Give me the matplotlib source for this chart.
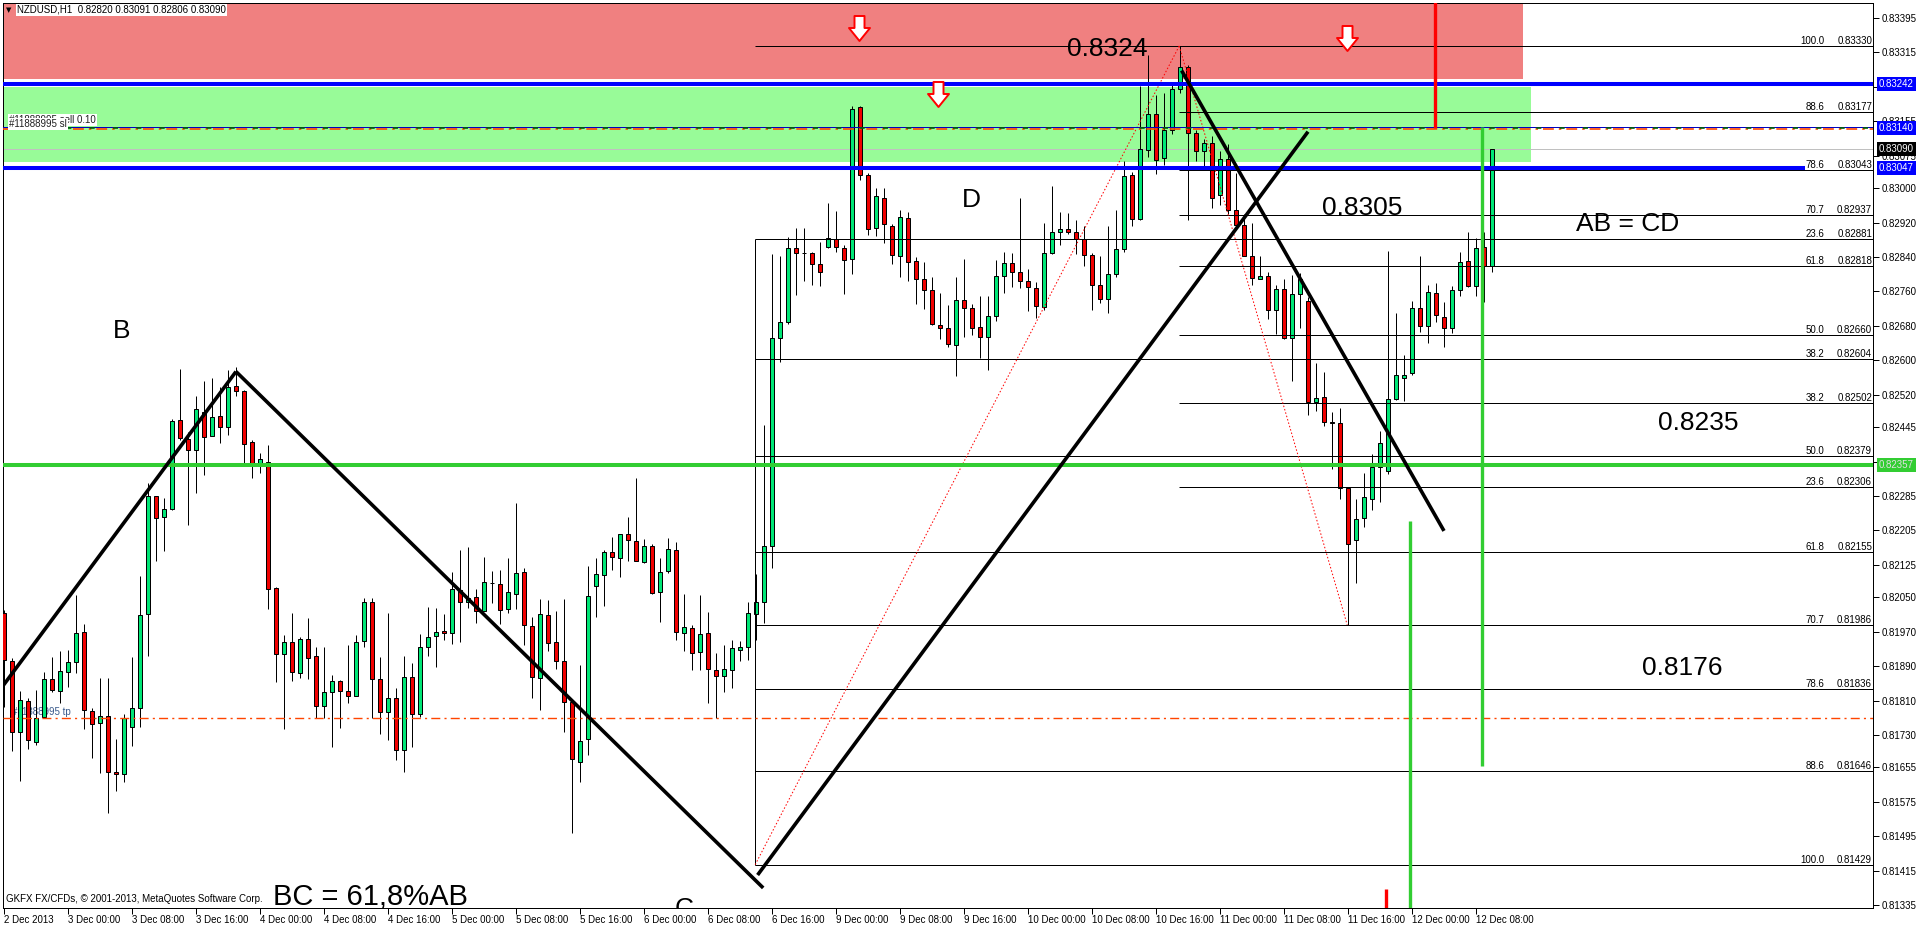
import matplotlib
matplotlib.use('Agg')
import matplotlib.pyplot as plt
from matplotlib.patches import Rectangle
from matplotlib.path import Path
import numpy as np

plt.rcParams['font.family'] = ['Liberation Sans', 'DejaVu Sans']

# NZDUSD H1, one candle per hour from 2 Dec 16:00 to 12 Dec 10:00
opens = [0.82013, 0.81903, 0.81738, 0.81809, 0.81715, 0.81773, 0.81859, 0.81832, 0.81876, 0.81899,
         0.81969, 0.81786, 0.81757, 0.81774, 0.81644, 0.81639, 0.81749, 0.81792, 0.82010, 0.82285,
         0.82236, 0.82255, 0.82462, 0.82417, 0.82393, 0.82479, 0.82425, 0.82471, 0.82445, 0.82541,
         0.82530, 0.82410, 0.82355, 0.82365, 0.82071, 0.81918, 0.81945, 0.81873, 0.81952, 0.81914,
         0.81798, 0.81829, 0.81856, 0.81832, 0.81821, 0.81948, 0.82038, 0.81859, 0.81784, 0.81817,
         0.81695, 0.81864, 0.81780, 0.81935, 0.81960, 0.81972, 0.81966, 0.82067, 0.82038, 0.82051,
         0.82018, 0.82084, 0.82080, 0.82022, 0.82057, 0.82108, 0.81984, 0.81862, 0.82009, 0.81945,
         0.81903, 0.81806, 0.81667, 0.81720, 0.82076, 0.82102, 0.82154, 0.82140, 0.82196, 0.82181,
         0.82131, 0.82170, 0.82061, 0.82111, 0.82160, 0.81966, 0.81978, 0.81922, 0.81966, 0.81881,
         0.81867, 0.81881, 0.81928, 0.81935, 0.82011, 0.82038, 0.82170, 0.82652, 0.82688, 0.82860,
         0.82850, 0.82849, 0.82823, 0.82864, 0.82882, 0.82860, 0.82835, 0.83188, 0.83031, 0.82907,
         0.82978, 0.82913, 0.82842, 0.82931, 0.82830, 0.82789, 0.82764, 0.82681, 0.82674, 0.82635,
         0.82740, 0.82722, 0.82677, 0.82654, 0.82703, 0.82795, 0.82825, 0.82805, 0.82784, 0.82768,
         0.82724, 0.82850, 0.82898, 0.82905, 0.82897, 0.82881, 0.82844, 0.82775, 0.82742, 0.82800,
         0.82858, 0.83030, 0.82929, 0.83089, 0.83171, 0.83070, 0.83135, 0.83231, 0.83281, 0.83128,
         0.83087, 0.83105, 0.82985, 0.83068, 0.82948, 0.82914, 0.82843, 0.82788, 0.82796, 0.82718,
         0.82765, 0.82653, 0.82753, 0.82737, 0.82504, 0.82514, 0.82456, 0.82454, 0.82304, 0.82182,
         0.82235, 0.82278, 0.82352, 0.82343, 0.82511, 0.82559, 0.82570, 0.82722, 0.82680, 0.82757,
         0.82701, 0.82675, 0.82763, 0.82830, 0.82772, 0.82863, 0.82820]
highs = [0.82020, 0.81908, 0.81832, 0.81815, 0.81835, 0.81877, 0.81912, 0.81924, 0.81928, 0.82055,
         0.81989, 0.81792, 0.81862, 0.81862, 0.81721, 0.81780, 0.81912, 0.82099, 0.82315, 0.82286,
         0.82280, 0.82465, 0.82580, 0.82434, 0.82517, 0.82551, 0.82558, 0.82539, 0.82578, 0.82584,
         0.82531, 0.82415, 0.82384, 0.82404, 0.82073, 0.81962, 0.82013, 0.81958, 0.82001, 0.81935,
         0.81935, 0.81869, 0.81857, 0.81939, 0.81962, 0.82049, 0.82049, 0.81912, 0.82013, 0.81839,
         0.81914, 0.81897, 0.81964, 0.82027, 0.82024, 0.82010, 0.82108, 0.82160, 0.82166, 0.82068,
         0.82143, 0.82111, 0.82113, 0.82142, 0.82268, 0.82117, 0.82005, 0.82047, 0.82044, 0.82019,
         0.82047, 0.81808, 0.81893, 0.82123, 0.82140, 0.82160, 0.82189, 0.82197, 0.82236, 0.82326,
         0.82185, 0.82174, 0.82140, 0.82188, 0.82179, 0.82058, 0.81986, 0.82055, 0.82015, 0.81920,
         0.81939, 0.81951, 0.81948, 0.82040, 0.82103, 0.82451, 0.82848, 0.82843, 0.82886, 0.82908,
         0.82907, 0.82852, 0.82876, 0.82965, 0.82947, 0.82869, 0.83190, 0.83190, 0.83035, 0.83000,
         0.83000, 0.82917, 0.82948, 0.82944, 0.82840, 0.82828, 0.82794, 0.82757, 0.82729, 0.82794,
         0.82835, 0.82731, 0.82749, 0.82749, 0.82832, 0.82852, 0.82849, 0.82977, 0.82811, 0.82782,
         0.82920, 0.83005, 0.82944, 0.82942, 0.82927, 0.82911, 0.82850, 0.82842, 0.82913, 0.82948,
         0.83062, 0.83038, 0.83236, 0.83309, 0.83217, 0.83221, 0.83246, 0.83330, 0.83286, 0.83136,
         0.83114, 0.83121, 0.83087, 0.83103, 0.83036, 0.82940, 0.82918, 0.82842, 0.82805, 0.82776,
         0.82789, 0.82798, 0.82803, 0.82746, 0.82594, 0.82574, 0.82480, 0.82489, 0.82306, 0.82278,
         0.82339, 0.82383, 0.82437, 0.82853, 0.82711, 0.82613, 0.82739, 0.82842, 0.82775, 0.82779,
         0.82736, 0.82772, 0.82851, 0.82897, 0.82884, 0.82897, 0.83091]
lows = [0.81796, 0.81694, 0.81624, 0.81697, 0.81707, 0.81770, 0.81831, 0.81804, 0.81842, 0.81873,
        0.81743, 0.81676, 0.81643, 0.81548, 0.81601, 0.81622, 0.81705, 0.81748, 0.81914, 0.82133,
        0.82158, 0.82252, 0.82415, 0.82218, 0.82291, 0.82334, 0.82424, 0.82409, 0.82427, 0.82518,
        0.82361, 0.82326, 0.82338, 0.82022, 0.81854, 0.81743, 0.81856, 0.81862, 0.81859, 0.81769,
        0.81769, 0.81703, 0.81747, 0.81804, 0.81821, 0.81934, 0.81769, 0.81732, 0.81719, 0.81672,
        0.81645, 0.81703, 0.81773, 0.81914, 0.81889, 0.81951, 0.81941, 0.81947, 0.82024, 0.81991,
        0.82017, 0.82037, 0.81988, 0.82013, 0.82022, 0.81939, 0.81817, 0.81787, 0.81924, 0.81883,
        0.81738, 0.81502, 0.81622, 0.81684, 0.82003, 0.82030, 0.82113, 0.82096, 0.82133, 0.82133,
        0.82129, 0.82058, 0.81993, 0.82107, 0.81951, 0.81926, 0.81880, 0.81881, 0.81804, 0.81770,
        0.81831, 0.81840, 0.81903, 0.81904, 0.81951, 0.81990, 0.82118, 0.82596, 0.82685, 0.82752,
        0.82784, 0.82775, 0.82773, 0.82861, 0.82852, 0.82754, 0.82800, 0.83019, 0.82891, 0.82889,
        0.82873, 0.82824, 0.82794, 0.82785, 0.82731, 0.82719, 0.82682, 0.82649, 0.82630, 0.82564,
        0.82654, 0.82660, 0.82606, 0.82578, 0.82691, 0.82757, 0.82770, 0.82768, 0.82715, 0.82698,
        0.82717, 0.82848, 0.82869, 0.82894, 0.82848, 0.82819, 0.82717, 0.82734, 0.82710, 0.82794,
        0.82852, 0.82911, 0.82927, 0.83072, 0.83033, 0.83054, 0.83126, 0.83221, 0.82927, 0.83062,
        0.83049, 0.82954, 0.82961, 0.82939, 0.82911, 0.82842, 0.82776, 0.82788, 0.82696, 0.82661,
        0.82650, 0.82553, 0.82674, 0.82474, 0.82483, 0.82447, 0.82348, 0.82278, 0.81986, 0.82084,
        0.82213, 0.82253, 0.82270, 0.82336, 0.82509, 0.82506, 0.82567, 0.82665, 0.82641, 0.82689,
        0.82630, 0.82663, 0.82750, 0.82771, 0.82750, 0.82735, 0.82806]
closes = [0.81904, 0.81738, 0.81811, 0.81719, 0.81769, 0.81859, 0.81835, 0.81879, 0.81899, 0.81966,
          0.81788, 0.81755, 0.81774, 0.81645, 0.81639, 0.81770, 0.81792, 0.82009, 0.82284, 0.82233,
          0.82256, 0.82459, 0.82419, 0.82393, 0.82486, 0.82421, 0.82468, 0.82446, 0.82537, 0.82530,
          0.82405, 0.82359, 0.82370, 0.82068, 0.81918, 0.81947, 0.81876, 0.81952, 0.81910, 0.81798,
          0.81829, 0.81856, 0.81832, 0.81821, 0.81947, 0.82040, 0.81859, 0.81784, 0.81817, 0.81695,
          0.81864, 0.81780, 0.81935, 0.81958, 0.81970, 0.81966, 0.82068, 0.82040, 0.82049, 0.82018,
          0.82086, 0.82083, 0.82020, 0.82061, 0.82106, 0.81986, 0.81864, 0.82010, 0.81943, 0.81902,
          0.81806, 0.81674, 0.81717, 0.82054, 0.82103, 0.82156, 0.82143, 0.82196, 0.82183, 0.82134,
          0.82170, 0.82059, 0.82109, 0.82161, 0.81969, 0.81980, 0.81920, 0.81964, 0.81883, 0.81866,
          0.81883, 0.81931, 0.81935, 0.82013, 0.82038, 0.82170, 0.82652, 0.82688, 0.82861, 0.82850,
          0.82849, 0.82824, 0.82805, 0.82884, 0.82864, 0.82833, 0.83183, 0.83031, 0.82906, 0.82982,
          0.82916, 0.82844, 0.82933, 0.82828, 0.82789, 0.82764, 0.82684, 0.82674, 0.82638, 0.82740,
          0.82722, 0.82676, 0.82654, 0.82703, 0.82795, 0.82825, 0.82806, 0.82784, 0.82770, 0.82726,
          0.82850, 0.82898, 0.82905, 0.82897, 0.82881, 0.82844, 0.82775, 0.82742, 0.82800, 0.82858,
          0.83027, 0.82929, 0.83091, 0.83173, 0.83065, 0.83135, 0.83231, 0.83281, 0.83128, 0.83087,
          0.83105, 0.82978, 0.83068, 0.82948, 0.82914, 0.82843, 0.82791, 0.82796, 0.82718, 0.82765,
          0.82653, 0.82753, 0.82789, 0.82504, 0.82513, 0.82456, 0.82455, 0.82304, 0.82174, 0.82232,
          0.82282, 0.82352, 0.82408, 0.82511, 0.82565, 0.82567, 0.82722, 0.82679, 0.82759, 0.82705,
          0.82675, 0.82763, 0.82828, 0.82772, 0.82862, 0.82820, 0.83090]

date_labels = ['2 Dec 2013', '3 Dec 00:00', '3 Dec 08:00', '3 Dec 16:00', '4 Dec 00:00',
               '4 Dec 08:00', '4 Dec 16:00', '5 Dec 00:00', '5 Dec 08:00', '5 Dec 16:00',
               '6 Dec 00:00', '6 Dec 08:00', '6 Dec 16:00', '9 Dec 00:00', '9 Dec 08:00',
               '9 Dec 16:00', '10 Dec 00:00', '10 Dec 08:00', '10 Dec 16:00', '11 Dec 00:00',
               '11 Dec 08:00', '11 Dec 16:00', '12 Dec 00:00', '12 Dec 08:00']
price_ticks = [0.83395, 0.83315, 0.83235, 0.83155, 0.83075, 0.83000, 0.82920, 0.82840, 0.82760,
               0.82680, 0.82600, 0.82520, 0.82445, 0.82365, 0.82285, 0.82205, 0.82125, 0.82050,
               0.81970, 0.81890, 0.81810, 0.81730, 0.81655, 0.81575, 0.81495, 0.81415, 0.81335]

# fibonacci retracements: D-swing (starts at bar 147) and C-D swing (starts at bar 94)
fib_a_names = ['100.0', '88.6', '78.6', '70.7', '61.8', '50.0', '38.2', '23.6']
fib_a_prices = [0.83330, 0.83177, 0.83043, 0.82937, 0.82818, 0.82660, 0.82502, 0.82306]
fib_b_names = ['23.6', '38.2', '50.0', '61.8', '70.7', '78.6', '88.6', '100.0']
fib_b_prices = [0.82881, 0.82604, 0.82379, 0.82155, 0.81986, 0.81836, 0.81646, 0.81429]

# zigzag (A-B-C-D) drawn by hand on the chart: (bar, price)
zz_ab = ([-0.5, 29.0], [0.81835, 0.82574])
zz_bc = ([29.0, 94.9], [0.82574, 0.81375])
zz_cd = ([94.2, 163.0], [0.81405, 0.83131])
zz_dn = ([147.2, 180.0], [0.83273, 0.82204])

# sell arrows: (bar, price)
arrow_bars = [106.9, 116.8, 167.9]
arrow_prices = [0.83372, 0.83219, 0.83349]

bull = '#00E676'
bear = '#F00000'
px = 0.72  # one pixel in points at dpi 100

fig = plt.figure(figsize=(19.16, 9.26), dpi=100)
ax = fig.add_axes([3 / 1916, 18 / 926, 1870 / 1916, 905 / 926])
ax.set_xlim(-0.125, 233.625)
ax.set_ylim(0.813284, 0.834298)

# zones
ax.add_patch(Rectangle((-1, 0.83253), 190.9, 0.0025, facecolor='#F08080', edgecolor='none', zorder=0.5))
ax.add_patch(Rectangle((-1, 0.83061), 191.9, 0.00174, facecolor='#98FB98', edgecolor='none', zorder=0.5))

# bid line
ax.axhline(0.83090, color='#C0C0C0', lw=px, zorder=1)

# candles
idx = np.arange(len(opens))
o = np.array(opens); h = np.array(highs); l = np.array(lows); c = np.array(closes)
up = c >= o
ax.vlines(idx, l, h, color='black', lw=px, zorder=2)
bot = np.minimum(o, c)
hgt = np.maximum(np.abs(c - o), 0.000004)
ax.bar(idx[up], hgt[up], bottom=bot[up], width=0.62, color=bull, edgecolor='black', lw=px, zorder=3)
ax.bar(idx[~up], hgt[~up], bottom=bot[~up], width=0.62, color=bear, edgecolor='black', lw=px, zorder=3)

# fib lines
for name, p in zip(fib_a_names, fib_a_prices):
    ax.hlines(p, 146.9, 240, color='black', lw=px, zorder=4)
    ax.text(227.5, p, name, ha='right', va='bottom', fontsize=7, zorder=6)
    ax.text(233.5, p, f'{p:.5f}', ha='right', va='bottom', fontsize=7, zorder=6)
ax.hlines(0.81986, 146.9, 240, color='black', lw=px, zorder=4)
for name, p in zip(fib_b_names, fib_b_prices):
    ax.hlines(p, 93.9, 240, color='black', lw=px, zorder=4)
    ax.text(227.5, p, name, ha='right', va='bottom', fontsize=7, zorder=6)
    ax.text(233.5, p, f'{p:.5f}', ha='right', va='bottom', fontsize=7, zorder=6)
ax.hlines(0.83330, 93.9, 240, color='black', lw=px, zorder=4)
ax.vlines(93.9, 0.81429, 0.82881, color='black', lw=px, zorder=4)
ax.plot([93.9, 146.9], [0.81429, 0.83330], color='red', lw=px, ls=(0, (1.5, 2)), zorder=4)
ax.plot([146.9, 167.9], [0.83330, 0.81986], color='red', lw=px, ls=(0, (1.5, 2)), zorder=4)

# trade levels
ax.axhline(0.83242, color='#0000FF', lw=2.9, zorder=4)
ax.hlines(0.83047, -1, 225.1, color='#0000FF', lw=2.9, zorder=4)
ax.axhline(0.83142, color='#0000C0', lw=px, zorder=4)
ax.axhline(0.83137, color='#FF4500', lw=1.2, ls=(0, (6.5, 3, 1.5, 3)), zorder=4)
ax.axhline(0.83140, color='#006400', lw=1.2, ls=(4, (3, 11)), zorder=4)
ax.axhline(0.82357, color='#32CD32', lw=2.9, zorder=4)
ax.axhline(0.81770, color='#FF4500', lw=1.0, ls=(0, (6.5, 3, 1.5, 3)), zorder=4)

# vertical markers
ax.vlines(178.9, 0.83140, 0.8345, color='red', lw=2.4, zorder=4)
ax.vlines(172.75, 0.81300, 0.81372, color='red', lw=2.4, zorder=4)
ax.vlines(175.8, 0.81300, 0.82228, color='#32CD32', lw=2.4, zorder=4)
ax.vlines(184.8, 0.81658, 0.83142, color='#32CD32', lw=2.4, zorder=4)

# zigzag
for xs, ys in (zz_ab, zz_bc, zz_cd, zz_dn):
    ax.plot(xs, ys, color='black', lw=2.6, solid_capstyle='butt', zorder=5)

# hollow down arrows
arrow = Path([(-0.2, 0.5), (0.2, 0.5), (0.2, 0.02), (0.42, 0.02), (0.0, -0.5),
              (-0.42, 0.02), (-0.2, 0.02), (-0.2, 0.5)], closed=True)
ax.plot(arrow_bars, arrow_prices, ls='none', marker=arrow, markersize=18,
        mfc='white', mec='red', mew=1.4, zorder=6)

# big annotations
big = dict(fontsize=19, color='black', ha='center', va='baseline', zorder=6)
ax.text(137.9, 0.83307, '0.8324', **big)
ax.text(120.9, 0.82956, 'D', **big)
ax.text(14.75, 0.82652, 'B', **big)
ax.text(169.75, 0.82938, '0.8305', **big)
ax.text(202.9, 0.82900, 'AB = CD', **big)
ax.text(211.75, 0.82438, '0.8235', **big)
ax.text(209.8, 0.81869, '0.8176', **big)
ax.text(45.75, 0.81335, 'BC = 61,8%AB', fontsize=21, color='black', ha='center', va='baseline', zorder=6)
ax.text(85.0, 0.81310, 'C', clip_on=True, **big)

# order labels
ax.text(1.0, 0.81773, '#11888995 tp', fontsize=7, color='#3A5A8C', va='bottom', zorder=1.5)
wb = dict(boxstyle='square,pad=0.1', fc='white', ec='none')
ax.text(0.6, 0.83146, '#11888995 sell 0.10', fontsize=7, color='#202020', va='bottom', bbox=wb, zorder=6)
ax.text(0.6, 0.83138, '#11888995 sl', fontsize=7, color='#202020', va='bottom', bbox=wb, zorder=7)

# header and copyright
fig.text(6 / 1916, 1 - 10 / 926, '\u25bc', fontsize=5, va='center', family='DejaVu Sans')
fig.text(17 / 1916, 1 - 10 / 926, 'NZDUSD,H1  0.82820 0.83091 0.82806 0.83090', fontsize=7,
         va='center', bbox=dict(boxstyle='square,pad=0.1', fc='white', ec='none'))
fig.text(6 / 1916, 1 - 899 / 926, 'GKFX FX/CFDs, \u00a9 2001-2013, MetaQuotes Software Corp.',
         fontsize=7, va='center')

# axes
for s in ax.spines.values():
    s.set_color('black')
    s.set_linewidth(px)
ax.yaxis.tick_right()
ax.set_yticks(price_ticks)
ax.set_yticklabels([f'{p:.5f}' for p in price_ticks])
ax.set_xticks(np.arange(len(date_labels)) * 8)
ax.set_xticklabels(date_labels, ha='left')
ax.tick_params(axis='both', direction='out', length=4, width=px, labelsize=7, colors='black')
ax.tick_params(axis='y', pad=2)
ax.tick_params(axis='x', pad=1)

# highlighted price tags on the scale
tr = ax.get_yaxis_transform()
for p, fc, tc in ((0.83242, '#0000FF', 'white'), (0.83140, '#0000FF', 'white'),
                  (0.83090, 'black', 'white'), (0.83047, '#0000FF', 'white'),
                  (0.82357, '#32CD32', '#E0E0E0')):
    ax.text(1.0032, p, f'{p:.5f}', transform=tr, fontsize=7, color=tc, ha='left', va='center',
            bbox=dict(boxstyle='square,pad=0.2', fc=fc, ec='none'), clip_on=False, zorder=10)

fig.savefig('out.png', dpi=100, facecolor='white')
